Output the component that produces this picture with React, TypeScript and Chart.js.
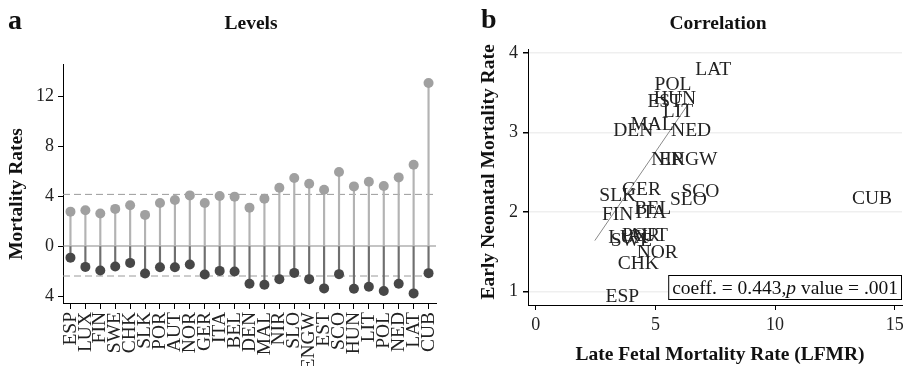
import React, { useEffect, useRef } from "react";
import { Chart, registerables } from "chart.js";
Chart.register(...registerables);

const countries = ["ESP","LUX","FIN","SWE","CHK","SLK","POR","AUT","NOR","GER","ITA","BEL","DEN","MAL","NIR","SLO","ENGW","EST","SCO","HUN","LIT","POL","NED","LAT","CUB"];
const lfmr = [2.75,2.86,2.6,2.97,3.26,2.49,3.44,3.68,4.05,3.44,4.0,3.95,3.07,3.79,4.66,5.44,4.98,4.5,5.92,4.77,5.14,4.8,5.49,6.5,13.04];
const enmr = [0.93,1.67,1.96,1.64,1.35,2.2,1.7,1.7,1.48,2.28,1.99,2.04,3.02,3.1,2.65,2.15,2.65,3.39,2.25,3.42,3.26,3.6,3.02,3.79,2.17];
const levelTicks = [-4, 0, 4, 8, 12];
const meanLines = [4.13, -2.4];
const corrXTicks = [0, 5, 10, 15];
const corrYTicks = [1, 2, 3, 4];
const fitX = [2.47, 6.4];
const fitY = [1.64, 3.37];
const coeffValue = "0.443";
const pValue = ".001";

const SERIF = "'Liberation Serif', 'Times New Roman', serif";

const levelsDecor = {
  id: "levelsDecor",
  beforeDatasetsDraw(chart: any) {
    const { ctx, chartArea, scales } = chart;
    const y = scales.y;
    ctx.save();
    ctx.lineWidth = 1.2;
    ctx.strokeStyle = "#8a8a8a";
    const y0 = y.getPixelForValue(0);
    ctx.beginPath();
    ctx.moveTo(chartArea.left, y0);
    ctx.lineTo(chartArea.right, y0);
    ctx.stroke();
    ctx.setLineDash([7, 4]);
    ctx.lineWidth = 1;
    ctx.strokeStyle = "#9a9a9a";
    meanLines.forEach((v) => {
      const p = y.getPixelForValue(v);
      ctx.beginPath();
      ctx.moveTo(chartArea.left, p);
      ctx.lineTo(chartArea.right, p);
      ctx.stroke();
    });
    ctx.restore();
  },
  afterDraw(chart: any) {
    const { ctx } = chart;
    ctx.save();
    ctx.fillStyle = "#111";
    ctx.textBaseline = "alphabetic";
    ctx.textAlign = "left";
    ctx.font = `bold 28px ${SERIF}`;
    ctx.fillText("a", 8, 29);
    ctx.textAlign = "center";
    ctx.font = `bold 19.5px ${SERIF}`;
    ctx.fillText("Levels", 251, 28.5);
    ctx.translate(17, 194);
    ctx.rotate(-Math.PI / 2);
    ctx.textBaseline = "middle";
    ctx.fillText("Mortality Rates", 0, 0);
    ctx.restore();
  },
};

const corrDecor = {
  id: "corrDecor",
  afterDatasetsDraw(chart: any) {
    const { ctx, chartArea } = chart;
    const meta = chart.getDatasetMeta(1);
    ctx.save();
    ctx.fillStyle = "#222";
    ctx.font = `19.5px ${SERIF}`;
    ctx.textAlign = "left";
    ctx.textBaseline = "middle";
    meta.data.forEach((pt: any, i: number) => {
      ctx.fillText(countries[i], pt.x + 4, pt.y);
    });
    // annotation box
    const F = `19.5px ${SERIF}`;
    const FI = `italic 19.5px ${SERIF}`;
    ctx.font = F;
    const t1 = `coeff. = ${coeffValue},`;
    const t3 = ` value = ${pValue}`;
    const w1 = ctx.measureText(t1).width;
    const w3 = ctx.measureText(t3).width;
    ctx.font = FI;
    const w2 = ctx.measureText("p").width;
    const padX = 4;
    const bw = w1 + w2 + w3 + padX * 2;
    const bh = 25;
    const bx = chartArea.right - bw;
    const by = chartArea.bottom - 5 - bh;
    ctx.fillStyle = "#fff";
    ctx.fillRect(bx, by, bw, bh);
    ctx.strokeStyle = "#000";
    ctx.lineWidth = 1;
    ctx.strokeRect(bx + 0.5, by + 0.5, bw - 1, bh - 1);
    ctx.fillStyle = "#111";
    ctx.textBaseline = "middle";
    const ty = by + bh / 2 + 1;
    ctx.font = F;
    ctx.fillText(t1, bx + padX, ty);
    ctx.font = FI;
    ctx.fillText("p", bx + padX + w1, ty);
    ctx.font = F;
    ctx.fillText(t3, bx + padX + w1 + w2, ty);
    ctx.restore();
  },
  afterDraw(chart: any) {
    const { ctx } = chart;
    ctx.save();
    ctx.fillStyle = "#111";
    ctx.textAlign = "left";
    ctx.textBaseline = "alphabetic";
    ctx.font = `bold 28px ${SERIF}`;
    ctx.fillText("b", 21, 28);
    ctx.textAlign = "center";
    ctx.font = `bold 19.5px ${SERIF}`;
    ctx.fillText("Correlation", 258, 28.5);
    ctx.fillText("Late Fetal Mortality Rate (LFMR)", 260, 360);
    ctx.translate(29, 172);
    ctx.rotate(-Math.PI / 2);
    ctx.textBaseline = "middle";
    ctx.fillText("Early Neonatal Mortality Rate", 0, 0);
    ctx.restore();
  },
};

function LevelsChart() {
  const ref = useRef<HTMLCanvasElement>(null);
  useEffect(() => {
    const chart = new Chart(ref.current!, {
      type: "bar",
      data: {
        labels: countries,
        datasets: [
          { type: "bar", data: lfmr, backgroundColor: "#b3b3b3", barThickness: 1.5, grouped: false, order: 3 } as any,
          { type: "bar", data: enmr.map((v) => -v), backgroundColor: "#6f6f6f", barThickness: 1.5, grouped: false, order: 3 } as any,
          { type: "line", data: lfmr, showLine: false, pointRadius: 5, pointBackgroundColor: "#a0a0a0", pointBorderWidth: 0, order: 1 } as any,
          { type: "line", data: enmr.map((v) => -v), showLine: false, pointRadius: 5, pointBackgroundColor: "#474747", pointBorderWidth: 0, order: 1 } as any,
        ],
      },
      options: {
        animation: false,
        responsive: false,
        layout: { padding: { top: 64, right: 24, left: 0, bottom: 0 } },
        plugins: { legend: { display: false }, tooltip: { enabled: false }, title: { display: false } },
        scales: {
          x: {
            offset: true,
            afterFit: (s: any) => { s.height = 97; },
            grid: { offset: false, drawOnChartArea: false, tickLength: 6, tickColor: "#000" },
            border: { color: "#000", width: 1 },
            ticks: { autoSkip: false, minRotation: 90, maxRotation: 90, padding: 3, color: "#222", font: { family: SERIF, size: 19.5 } },
          },
          y: {
            min: -4.56,
            max: 14.56,
            afterFit: (s: any) => { s.width = 63; },
            afterBuildTicks: (s: any) => { s.ticks = levelTicks.map((v) => ({ value: v })); },
            grid: { drawOnChartArea: false, tickLength: 5, tickColor: "#000" },
            border: { color: "#000", width: 1 },
            ticks: { padding: 4, color: "#222", font: { family: SERIF, size: 18 }, callback: (v: any) => String(Math.abs(Number(v))) },
          },
        },
      },
      plugins: [levelsDecor],
    });
    return () => chart.destroy();
  }, []);
  return <canvas ref={ref} width={460} height={400} style={{ position: "absolute", left: 0, top: 0 }} />;
}

function CorrChart() {
  const ref = useRef<HTMLCanvasElement>(null);
  useEffect(() => {
    const chart = new Chart(ref.current!, {
      type: "scatter",
      data: {
        datasets: [
          { type: "line", data: fitX.map((x, i) => ({ x, y: fitY[i] })), borderColor: "#8a8a8a", borderWidth: 1, pointRadius: 0, fill: false } as any,
          { type: "scatter", data: lfmr.map((x, i) => ({ x, y: enmr[i] })), pointRadius: 0 } as any,
        ],
      },
      options: {
        animation: false,
        responsive: false,
        layout: { padding: { top: 49, right: 6, left: 0, bottom: 0 } },
        plugins: { legend: { display: false }, tooltip: { enabled: false } },
        scales: {
          x: {
            type: "linear",
            min: -0.32,
            max: 15.3,
            afterFit: (s: any) => { s.height = 61; },
            afterBuildTicks: (s: any) => { s.ticks = corrXTicks.map((v) => ({ value: v })); },
            grid: { drawOnChartArea: false, tickLength: 5, tickColor: "#000" },
            border: { color: "#000", width: 1 },
            ticks: { padding: 4, color: "#222", font: { family: SERIF, size: 18 } },
          },
          y: {
            type: "linear",
            min: 0.83,
            max: 4.05,
            afterFit: (s: any) => { s.width = 68; },
            afterBuildTicks: (s: any) => { s.ticks = corrYTicks.map((v) => ({ value: v })); },
            grid: { color: "#efefef", lineWidth: 1.5, tickLength: 5, tickColor: "#000" },
            border: { color: "#000", width: 1 },
            ticks: { padding: 5, color: "#222", font: { family: SERIF, size: 18 } },
          },
        },
      },
      plugins: [corrDecor],
    });
    return () => chart.destroy();
  }, []);
  return <canvas ref={ref} width={448} height={366} style={{ position: "absolute", left: 460, top: 0 }} />;
}

export default function App() {
  return (
    <div style={{ position: "fixed", left: 0, top: 0, width: 908, height: 366, background: "#fff", overflow: "hidden" }}>
      <LevelsChart />
      <CorrChart />
    </div>
  );
}
